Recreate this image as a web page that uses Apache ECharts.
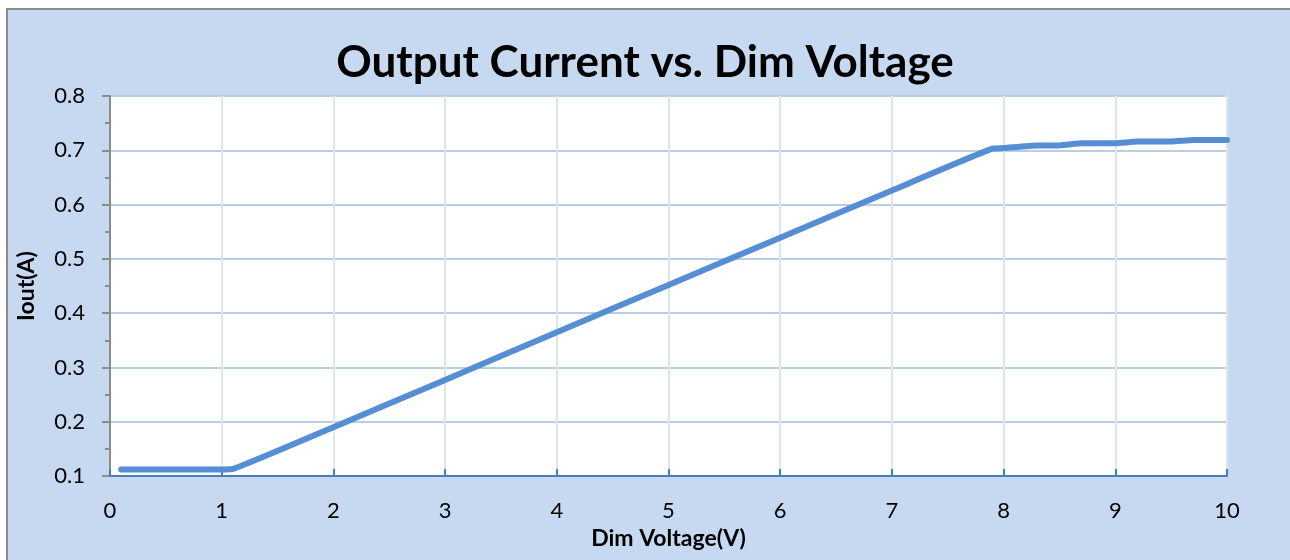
<!DOCTYPE html>
<html><head><meta charset="utf-8">
<script src="https://cdn.jsdelivr.net/npm/echarts@6/dist/echarts.min.js"></script>
<style>html,body{margin:0;padding:0;background:#fff}#c{width:1290px;height:560px}</style>
</head><body><div id="c"></div>
<script>
const titleText = "Output Current vs. Dim Voltage";
const xName = "Dim Voltage(V)";
const yName = "Iout(A)";
const dimVoltage = [0.1, 0.5, 1.0, 1.1, 2, 3, 4, 5, 6, 7, 7.9, 8.0, 8.3, 8.5, 8.7, 9.0, 9.2, 9.5, 9.7, 10];
const ioutA = [0.112, 0.112, 0.112, 0.113, 0.19, 0.277, 0.365, 0.452, 0.539, 0.626, 0.703, 0.704, 0.709, 0.709, 0.713, 0.713, 0.716, 0.716, 0.719, 0.719];
const seriesData = dimVoltage.map((v, i) => [v, ioutA[i]]);
const font = "Lato, 'Open Sans', sans-serif";
const chart = echarts.init(document.getElementById('c'));
chart.setOption({
  backgroundColor: '#fff',
  animation: false,
  graphic: [{
    type: 'rect', z: -10, silent: true,
    shape: {x: 7, y: 9, width: 1300, height: 560},
    style: {fill: '#c6d9f1', stroke: '#8c8c8c', lineWidth: 2}
  }],
  title: {
    text: titleText, left: 'center', top: 36,
    textStyle: {fontFamily: font, fontWeight: 'bold', fontSize: 44, color: '#000'}
  },
  grid: {left: 110, right: 63, top: 96, bottom: 84, show: true, backgroundColor: '#fff', borderWidth: 0},
  xAxis: {
    type: 'value', min: 0, max: 10, interval: 1,
    name: xName, nameLocation: 'middle', nameGap: 50,
    nameTextStyle: {fontFamily: font, fontWeight: 'bold', fontSize: 23, color: '#000'},
    axisLine: {show: true, lineStyle: {color: '#4a7ebb', width: 2}},
    axisTick: {show: true, inside: true, length: 7, lineStyle: {color: '#4a7ebb', width: 2}},
    axisLabel: {fontFamily: font, fontSize: 22, color: '#000', margin: 24},
    splitLine: {show: true, lineStyle: {color: '#dce6f2', width: 2}}
  },
  yAxis: {
    type: 'value', min: 0.1, max: 0.8, interval: 0.1,
    name: yName, nameLocation: 'middle', nameGap: 72, nameRotate: 90,
    nameTextStyle: {fontFamily: font, fontWeight: 'bold', fontSize: 23, color: '#000'},
    axisLine: {show: true, lineStyle: {color: '#8c8c8c', width: 2}},
    axisTick: {show: true, inside: false, length: 8, lineStyle: {color: '#8c8c8c', width: 2}},
    minorTick: {show: true, splitNumber: 2, length: 5, lineStyle: {color: '#8c8c8c', width: 2}},
    axisLabel: {fontFamily: font, fontSize: 22, color: '#000', margin: 25, formatter: v => v.toFixed(1)},
    splitLine: {show: true, lineStyle: {color: '#b9cde5', width: 2}}
  },
  series: [{
    type: 'line', data: seriesData, showSymbol: false, smooth: 0.15,
    lineStyle: {color: '#558ed5', width: 6, cap: 'round', join: 'round'},
    clip: false
  }]
});
</script></body></html>
